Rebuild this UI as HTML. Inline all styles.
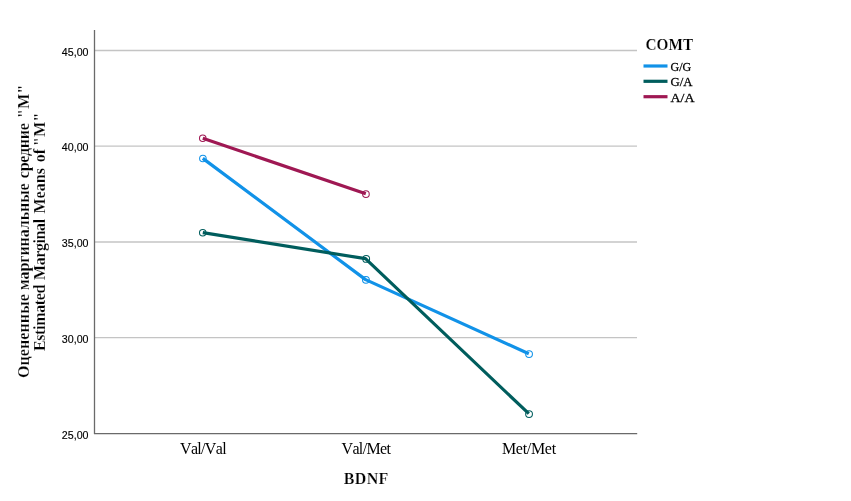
<!DOCTYPE html>
<html lang="ru">
<head>
<meta charset="utf-8">
<title>Estimated Marginal Means</title>
<style>
html,body{margin:0;padding:0;background:#fff;}
body{width:851px;height:501px;overflow:hidden;}
svg{display:block;}
.tick{font-family:"Liberation Sans",sans-serif;font-size:10.67px;fill:#000;stroke:#000;stroke-width:0.15px;}
.cat{font-family:"Liberation Serif",serif;font-size:16px;fill:#000;}
.ttl{font-family:"Liberation Serif",serif;font-size:16px;font-weight:bold;fill:#000;stroke:#fff;stroke-width:0.2px;}
.leg{font-family:"Liberation Serif",serif;font-size:12px;fill:#000;stroke:#000;stroke-width:0.25px;}
</style>
</head>
<body>
<svg width="851" height="501" viewBox="0 0 851 501">
<rect x="0" y="0" width="851" height="501" fill="#ffffff"/>
<!-- grid -->
<g stroke="#c4c4c4" stroke-width="1.3" fill="none">
<line x1="95" y1="50.5" x2="637" y2="50.5"/>
<line x1="95" y1="146.2" x2="637" y2="146.2"/>
<line x1="95" y1="242" x2="637" y2="242"/>
<line x1="95" y1="337.65" x2="637" y2="337.65" stroke-width="1.15"/>
</g>
<!-- axes -->
<g stroke="#6a6a6a" stroke-width="1.3" fill="none">
<line x1="94.5" y1="30" x2="94.5" y2="434"/>
<line x1="94" y1="433.65" x2="637.2" y2="433.65"/>
</g>
<!-- tick labels -->
<g class="tick" text-anchor="end">
<text x="88.5" y="55.8">45,00</text>
<text x="88.5" y="150.8">40,00</text>
<text x="88.5" y="247.3">35,00</text>
<text x="88.5" y="343.1">30,00</text>
<text x="88.5" y="438.8">25,00</text>
</g>
<!-- lines -->
<g fill="none" stroke-width="3.2" stroke-linejoin="round" stroke-linecap="butt">
<polyline stroke="#1192e8" points="202.8,158.4 365.6,279.6 528.8,353.7"/>
<polyline stroke="#005d5d" points="202.8,232.6 365.5,258.7 528.8,413.7"/>
<polyline stroke="#9f1853" points="202.8,138.3 365.8,193.8"/>
</g>
<g fill="none" stroke-width="1.05">
<g stroke="#1192e8"><circle cx="202.9" cy="158.5" r="3.3"/><circle cx="365.9" cy="279.8" r="3.4"/><circle cx="529.05" cy="354.10" r="3.4"/></g>
<g stroke="#005d5d"><circle cx="202.75" cy="232.65" r="3.25"/><circle cx="366.2" cy="258.9" r="3.4"/><circle cx="529.05" cy="414.10" r="3.4"/></g>
<g stroke="#9f1853"><circle cx="202.75" cy="138.25" r="3.25"/><circle cx="365.95" cy="194.15" r="3.3"/></g>
</g>
<!-- category labels -->
<g class="cat" text-anchor="middle" style="font-kerning:none">
<text transform="translate(203.3,454.1) scale(1,1.045)" textLength="46.6" lengthAdjust="spacing">Val/Val</text>
<text transform="translate(366.2,454.1) scale(1,1.045)" textLength="49.4" lengthAdjust="spacing">Val/Met</text>
<text transform="translate(529,454.1) scale(1,1.045)" textLength="54.2" lengthAdjust="spacing">Met/Met</text>
</g>
<text class="ttl" text-anchor="middle" transform="translate(366,483.9) scale(1,1.04)" textLength="44.6" lengthAdjust="spacing">BDNF</text>
<!-- y title -->
<g class="ttl" text-anchor="start">
<text transform="translate(29,378) rotate(-90) scale(1,1.04)"><tspan x="0" letter-spacing="0.1">Оцененные</tspan> <tspan x="87.8" letter-spacing="-0.077">маргинальные</tspan> <tspan x="199.85" letter-spacing="-0.245">средние</tspan> <tspan x="260" letter-spacing="0.285">"M"</tspan></text>
<text transform="translate(45,351.2) rotate(-90) scale(1,1.04)"><tspan x="0.1" letter-spacing="-0.335">Estimated</tspan> <tspan x="71.3" letter-spacing="-0.42">Marginal</tspan> <tspan x="137.6" letter-spacing="0.085">Means</tspan> <tspan x="188.9" letter-spacing="0">of</tspan> <tspan x="205.3" letter-spacing="0.235">"M"</tspan></text>
</g>
<!-- legend -->
<text class="ttl" transform="translate(645.5,50.2) scale(1,1.045)" textLength="47.6" lengthAdjust="spacingAndGlyphs">COMT</text>
<g stroke-width="3.2" fill="none">
<line x1="643.5" y1="66" x2="667.5" y2="66" stroke="#1192e8"/>
<line x1="643.5" y1="81.3" x2="667.5" y2="81.3" stroke="#005d5d"/>
<line x1="643.5" y1="96.7" x2="667.5" y2="96.7" stroke="#9f1853"/>
</g>
<g class="leg">
<text transform="translate(670.5,70.5) scale(1,1.07)">G/G</text>
<text transform="translate(670.5,85.7) scale(1,1.07)" textLength="22" lengthAdjust="spacingAndGlyphs">G/A</text>
<text transform="translate(670.5,101.6) scale(1,1.07)" textLength="24" lengthAdjust="spacingAndGlyphs">A/A</text>
</g>
</svg>
</body>
</html>
